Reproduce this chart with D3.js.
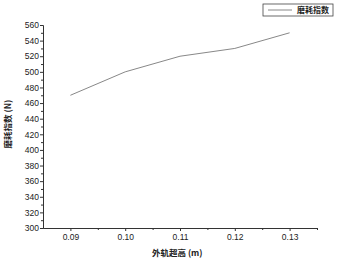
<!DOCTYPE html>
<html>
<head>
<meta charset="utf-8">
<script src="https://cdn.jsdelivr.net/npm/d3@7"></script>
<style>
  body { margin: 0; background: #fff; }
  .axis text { font-family: "Liberation Sans", Arial, sans-serif; font-size: 8.5px; fill: #222; }
  .axis path, .axis line { stroke: #333; }
</style>
</head>
<body>
<div id="chart"></div>
<script>
// Data
var heights = [0.09, 0.10, 0.11, 0.12, 0.13];
var wear = [470, 500, 520, 530, 550];
var xTicks = [0.09, 0.10, 0.11, 0.12, 0.13];
var yTicks = [300, 320, 340, 360, 380, 400, 420, 440, 460, 480, 500, 520, 540, 560];
var seriesName = "磨耗指数";
var xTitle = "外轨超高 (m)";
var yTitle = "磨耗指数 (N)";

var W = 344, H = 259;
var margin = { top: 25, right: 27, bottom: 31, left: 43 },
    width = W - margin.left - margin.right,
    height = H - margin.top - margin.bottom;

var x = d3.scaleLinear().domain([0.085, 0.135]).range([0, width]),
    y = d3.scaleLinear().domain([300, 560]).range([height, 0]);

var svg = d3.select("#chart").append("svg")
    .attr("width", W).attr("height", H)
  .append("g")
    .attr("transform", "translate(" + margin.left + "," + margin.top + ")");

// minor ticks
svg.append("g")
  .attr("class", "axis")
  .attr("transform", "translate(0," + height + ")")
  .call(d3.axisBottom(x).tickValues([0.095, 0.105, 0.115, 0.125, 0.135]).tickSize(2).tickFormat("").tickSizeOuter(0));
svg.append("g")
  .attr("class", "axis")
  .call(d3.axisLeft(y).tickValues(d3.range(310, 560, 20)).tickSize(2).tickFormat("").tickSizeOuter(0));

// Axes
svg.append("g")
  .attr("class", "axis")
  .attr("transform", "translate(0," + height + ")")
  .call(d3.axisBottom(x).tickValues(xTicks).tickSize(3).tickPadding(3).tickFormat(d3.format(".2f")).tickSizeOuter(0));

svg.append("g")
  .attr("class", "axis")
  .call(d3.axisLeft(y).tickValues(yTicks).tickSize(3).tickPadding(1).tickSizeOuter(0));

// Line
var line = d3.line()
  .x(function(d, i) { return x(heights[i]); })
  .y(function(d) { return y(d); });

svg.append("path")
  .datum(wear)
  .attr("d", line)
  .attr("fill", "none")
  .attr("stroke", "#888")
  .attr("stroke-width", 1);

// Axis titles
svg.append("text")
  .attr("x", x(0.1095))
  .attr("y", height + 28)
  .attr("text-anchor", "middle")
  .attr("font-family", "'Noto Sans CJK SC', sans-serif")
  .attr("font-size", "8.5px")
  .attr("font-weight", "bold")
  .attr("fill", "#222")
  .text(xTitle);

svg.append("text")
  .attr("transform", "translate(" + (-margin.left + 11) + "," + y(433) + ") rotate(-90)")
  .attr("text-anchor", "middle")
  .attr("font-family", "'Noto Sans CJK SC', sans-serif")
  .attr("font-size", "8.5px")
  .attr("font-weight", "bold")
  .attr("fill", "#222")
  .text(yTitle);

// Legend
var legend = d3.select("svg").append("g")
  .attr("transform", "translate(263,4)");
legend.append("rect")
  .attr("width", 70).attr("height", 12)
  .attr("fill", "#fff").attr("stroke", "#444").attr("stroke-width", 0.8);
legend.append("line")
  .attr("x1", 5).attr("x2", 29).attr("y1", 6).attr("y2", 6)
  .attr("stroke", "#888");
legend.append("text")
  .attr("x", 34).attr("y", 9)
  .attr("font-family", "'Noto Sans CJK SC', sans-serif")
  .attr("font-size", "8px")
  .attr("font-weight", "bold")
  .attr("fill", "#222")
  .text(seriesName);
</script>
</body>
</html>
